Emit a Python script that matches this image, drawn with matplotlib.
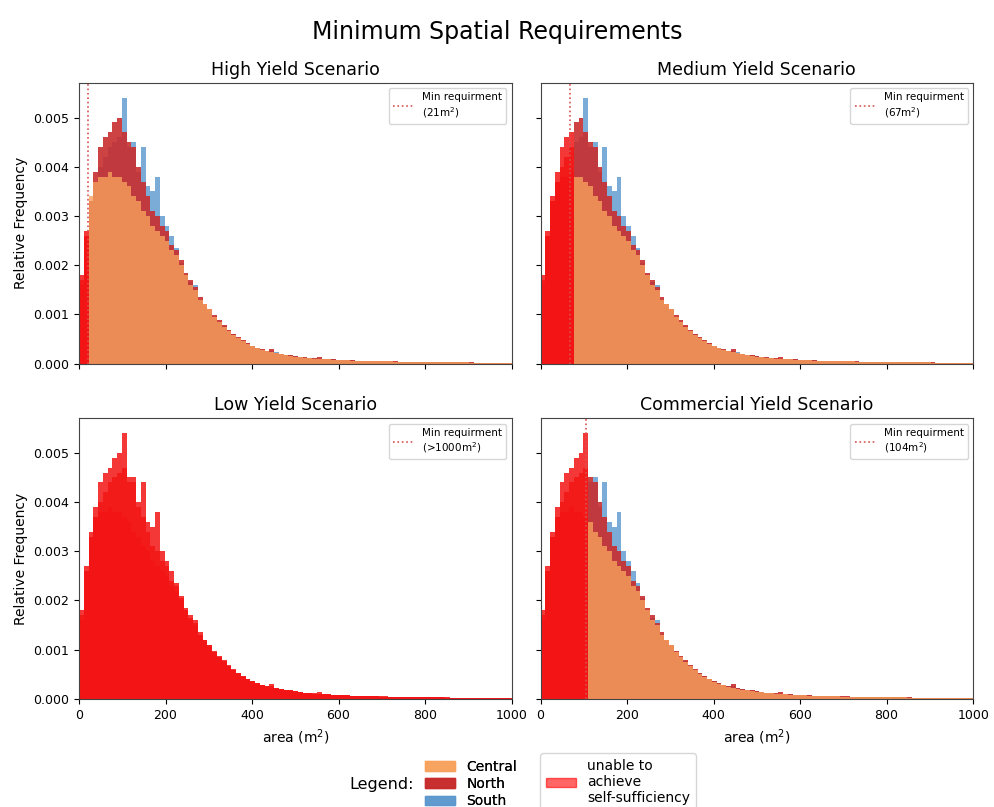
import matplotlib.pyplot as plt
import numpy as np
from matplotlib.lines import Line2D
from matplotlib.patches import Patch

bin_width = 11

# relative frequency per area bin, in units of 1e-4
central = [16, 26, 34, 37, 38, 38, 39, 38, 38, 37,
           36, 34, 33, 31, 30, 28, 27, 26, 25, 23,
           22, 20, 18, 16, 15, 13, 12, 11, 9.5, 8.5,
           7.5, 6.6, 5.8, 5.1, 4.5, 4.0, 3.5, 3.1, 2.8, 2.5,
           2.3, 2.1, 1.9, 1.7, 1.6, 1.4, 1.3, 1.2, 1.1, 1.0,
           0.95, 0.9, 0.85, 0.8, 0.75, 0.7, 0.65, 0.6, 0.6, 0.55,
           0.55, 0.5, 0.5, 0.45, 0.45, 0.45, 0.4, 0.4, 0.4, 0.35,
           0.35, 0.35, 0.35, 0.3, 0.3, 0.3, 0.3, 0.25, 0.25, 0.25,
           0.25, 0.25, 0.2, 0.2, 0.2, 0.2, 0.2, 0.15, 0.15, 0.15, 0.15]

north = [18, 27, 33, 39, 44, 46, 47, 49, 50, 47,
         45, 44, 40, 37, 34, 31, 30, 28, 27, 24,
         23, 21, 18.5, 17, 15.5, 13.5, 12, 11, 9.8, 8.8,
         7.8, 6.8, 6.0, 5.3, 4.7, 4.1, 3.6, 3.2, 2.9, 2.6,
         3.0, 2.2, 2.0, 1.8, 1.7, 1.5, 1.35, 1.25, 1.15, 1.1,
         1.4, 0.95, 0.9, 0.85, 0.8, 0.75, 0.7, 0.65, 0.6, 0.6,
         0.55, 0.55, 0.5, 0.5, 0.5, 0.45, 0.45, 0.4, 0.4, 0.4,
         0.4, 0.35, 0.4, 0.35, 0.3, 0.3, 0.3, 0.3, 0.25, 0.25,
         0.25, 0.25, 0.25, 0.2, 0.2, 0.2, 0.2, 0.2, 0.15, 0.15, 0.15]

south = [17, 26, 33, 37, 40, 42, 44, 45, 46, 54,
         44, 45, 39, 44, 36, 35, 38, 30, 28, 26,
         23.5, 20.5, 18, 16.5, 16, 13, 11.5, 10.5, 9.3, 8.5,
         7.6, 6.6, 5.9, 5.2, 4.6, 4.1, 3.6, 3.2, 2.8, 2.6,
         2.6, 2.3, 2.0, 1.8, 1.7, 1.5, 1.3, 1.2, 1.1, 1.0,
         1.0, 0.9, 0.9, 0.85, 0.8, 0.7, 0.7, 0.65, 0.6, 0.55,
         0.55, 0.5, 0.5, 0.45, 0.45, 0.45, 0.4, 0.4, 0.4, 0.35,
         0.35, 0.35, 0.35, 0.3, 0.3, 0.3, 0.3, 0.25, 0.25, 0.25,
         0.25, 0.25, 0.2, 0.2, 0.2, 0.2, 0.2, 0.15, 0.15, 0.15, 0.15]

scenarios = ["High Yield Scenario", "Medium Yield Scenario",
             "Low Yield Scenario", "Commercial Yield Scenario"]
min_area = [21, 67, None, 104]  # None: not reachable below 1000 m2
min_labels = ["(21m$^2$)", "(67m$^2$)", "(>1000m$^2$)", "(104m$^2$)"]

region_names = ["South", "North", "Central"]
region_colors = {"Central": "#f7a15b", "North": "#c82d2d", "South": "#5a96cd"}
region_alpha = {"Central": 0.8, "North": 0.9, "South": 0.8}
region_data = {"Central": central, "North": north, "South": south}


def draw_scenario(ax, title, limit, limit_label):
    for name in region_names:
        vals = np.array(region_data[name]) * 1e-4
        edges = np.arange(len(vals) + 1) * bin_width
        if limit is None:
            k = len(vals)
        else:
            k = int(np.sum(edges[:-1] < limit))
        if k > 0:
            ax.stairs(vals[:k], edges[:k + 1], fill=True, color="#f31515",
                      alpha=0.85, linewidth=0)
        if k < len(vals):
            ax.stairs(vals[k:], edges[k:], fill=True, color=region_colors[name],
                      alpha=region_alpha[name], linewidth=0)

    if limit is not None:
        ax.axvline(limit, color="#d9534f", linestyle=":", linewidth=1.2)
    handle = Line2D([], [], color="#d9534f", linestyle=":", linewidth=1.2)
    ax.legend([handle], ["Min requirment\n" + limit_label], loc="upper right",
              fontsize=7.5)
    ax.set_title(title, fontsize=12.5)
    ax.set_xlim(0, 1000)
    ax.set_ylim(0, 0.0057)
    ax.tick_params(labelsize=9)
    for spine in ax.spines.values():
        spine.set_color("#444444")


fig, axs = plt.subplots(2, 2, figsize=(9.94, 8.07), sharex=True, sharey=True)
fig.subplots_adjust(left=0.0795, right=0.979, bottom=0.134, top=0.897,
                    wspace=0.067, hspace=0.196)

for i, ax in enumerate(axs.flat):
    draw_scenario(ax, scenarios[i], min_area[i], min_labels[i])

for ax in axs[:, 0]:
    ax.set_ylabel("Relative Frequency", fontsize=10)
for ax in axs[1, :]:
    ax.set_xlabel("area (m$^2$)", fontsize=10)

fig.suptitle("Minimum Spatial Requirements", fontsize=17, y=0.975)

fig.text(0.416, 0.0285, "Legend:", fontsize=11.5, ha="right", va="center")

region_handles = [Patch(color=region_colors[n], alpha=region_alpha[n])
                  for n in ["Central", "North", "South"]]
leg1 = fig.legend(region_handles, ["Central", "North", "South"],
                  loc="center left", bbox_to_anchor=(0.4217, 0.0285),
                  frameon=False, fontsize=10, labelspacing=0.25,
                  handlelength=2.2, borderaxespad=0)
fig.add_artist(leg1)
fig.legend([Patch(color="red", alpha=0.6)],
           ["unable to\nachieve\nself-sufficiency"],
           loc="upper left", bbox_to_anchor=(0.5433, 0.0669),
           fontsize=10, handlelength=2.2, borderaxespad=0)

fig.savefig("out.png", dpi=100)
